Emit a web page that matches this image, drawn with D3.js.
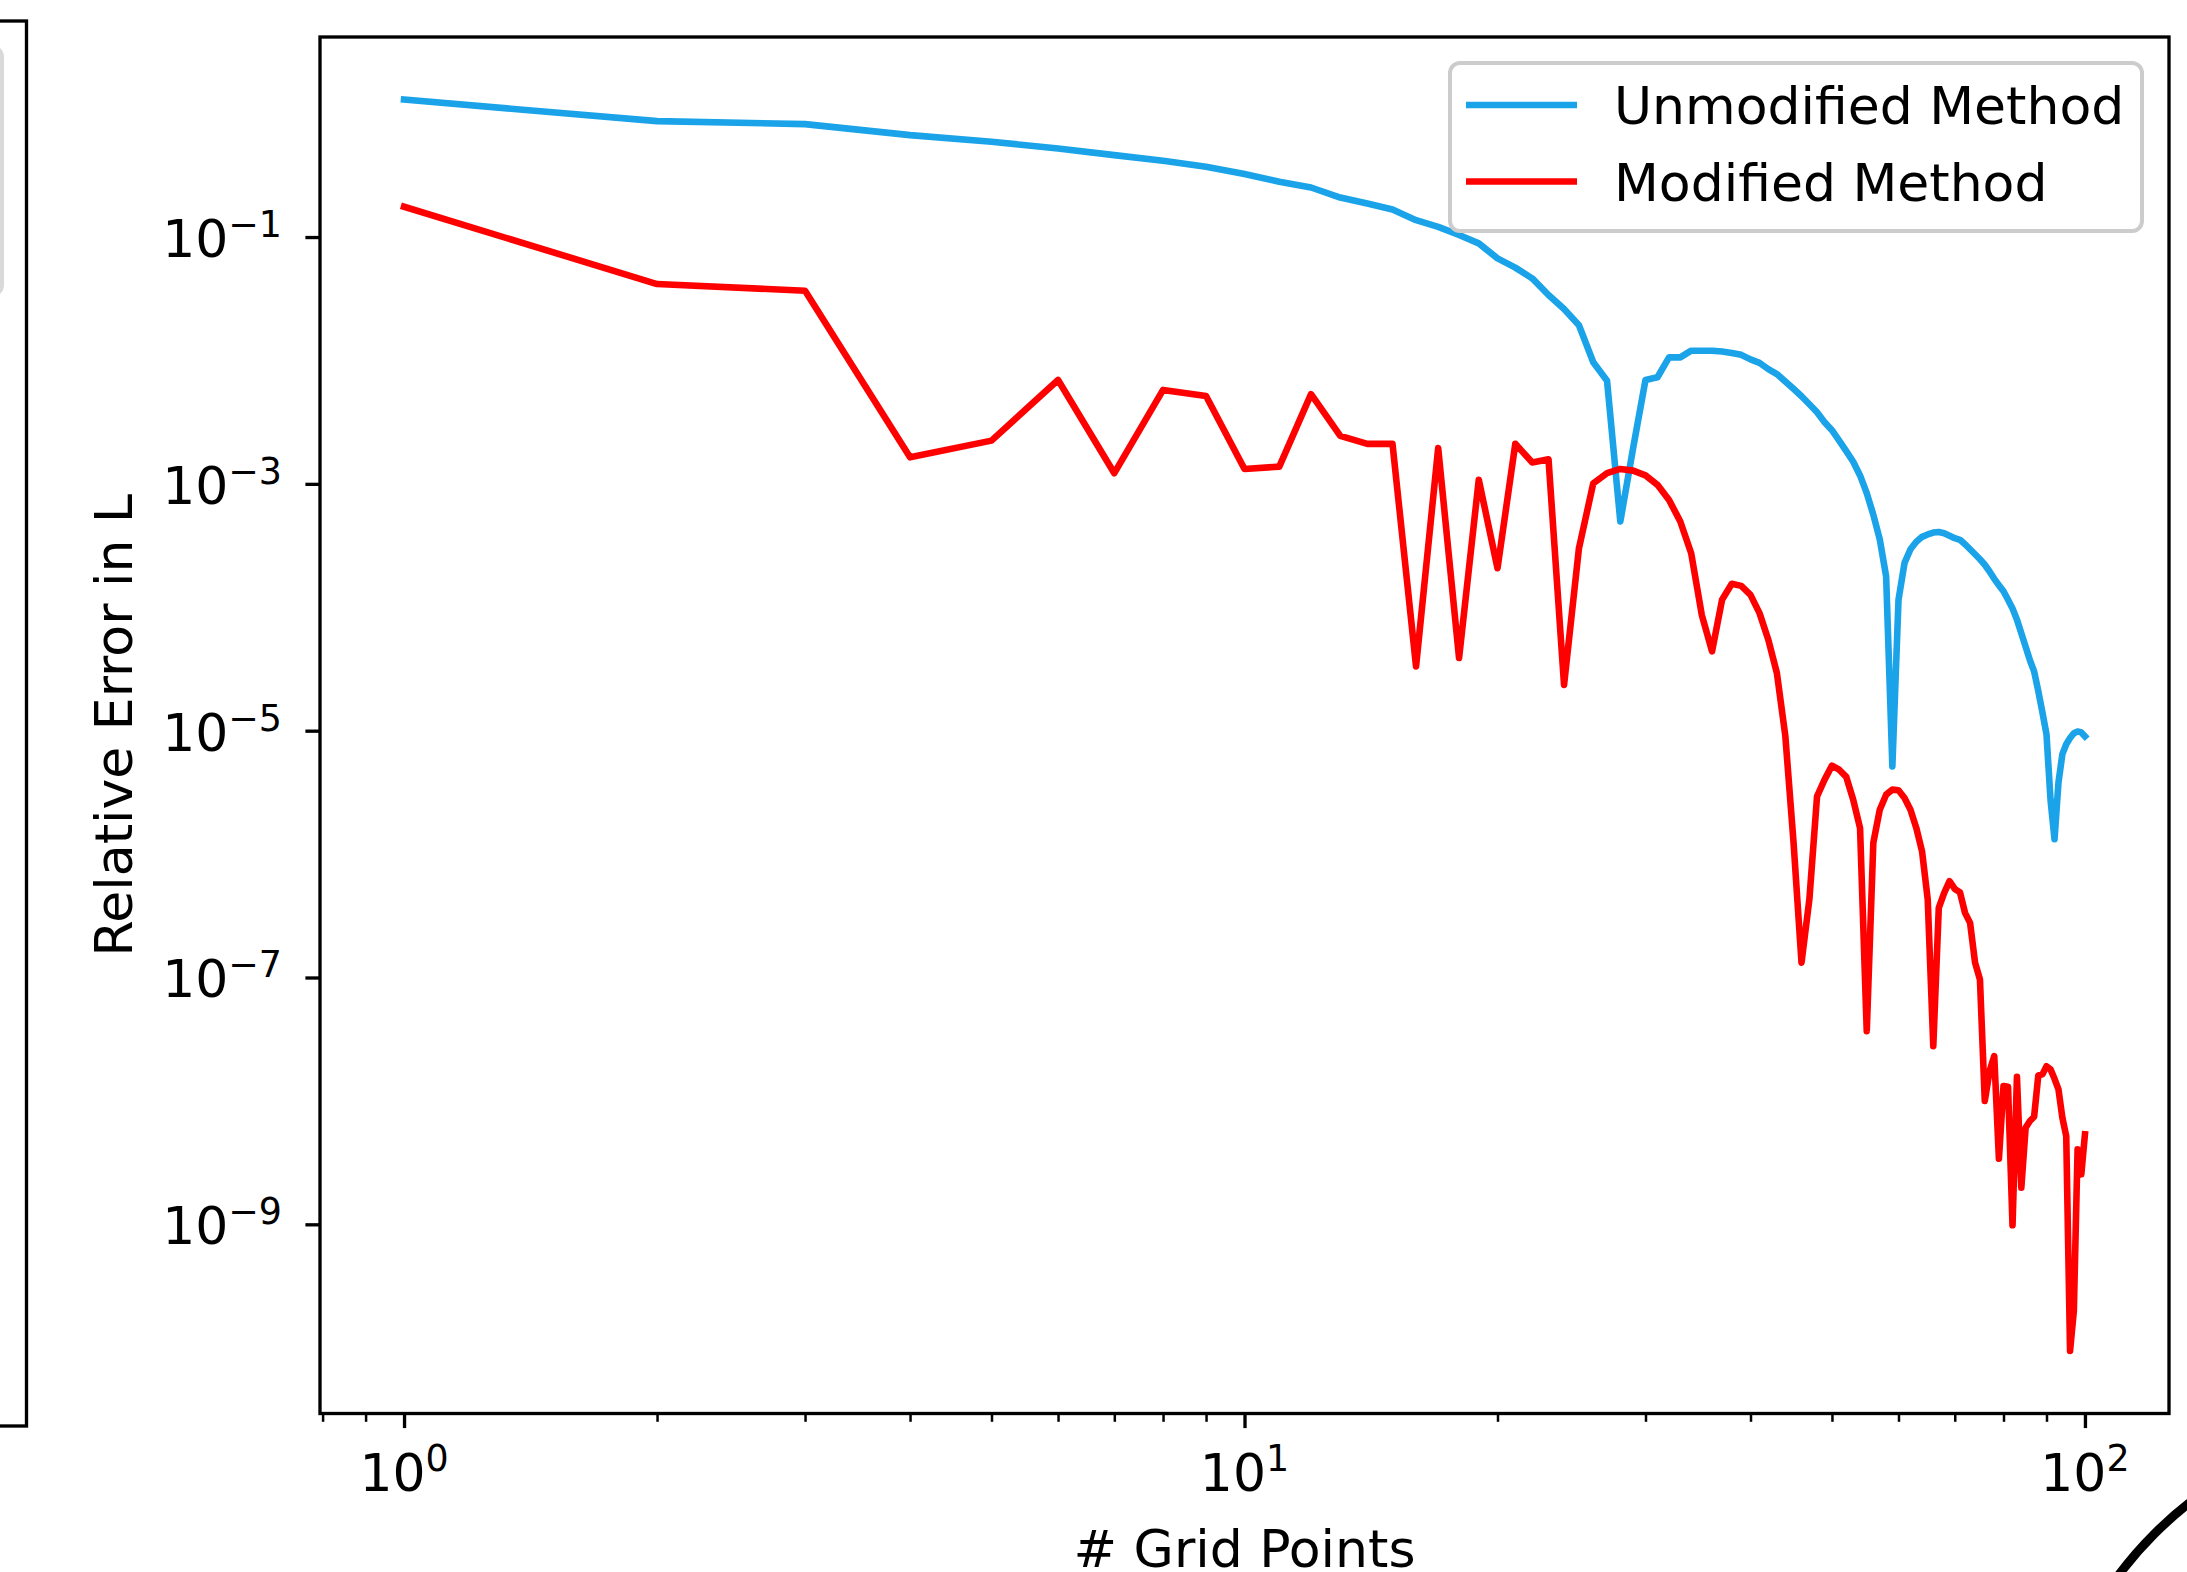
<!DOCTYPE html>
<html>
<head>
<meta charset="utf-8">
<script src="https://cdn.jsdelivr.net/npm/d3@7/dist/d3.min.js"></script>
<style>
  body { margin: 0; background: #fff; }
  svg { display: block; font-family: "DejaVu Sans", sans-serif; }
</style>
</head>
<body>
<svg id="chart" width="2187" height="1572"></svg>
<script>
let WIDTH = 2187;
let HEIGHT = 1572;

// number of grid points (x)
let gridPoints = [
  1, 2, 3, 4, 5, 6, 7, 8, 9, 10, 11, 12, 13, 14, 15, 16, 17, 18, 19, 20,
  21, 22, 23, 24, 25, 26, 27, 28, 29, 30, 31, 32, 33, 34, 35, 36, 37, 38, 39, 40,
  41, 42, 43, 44, 45, 46, 47, 48, 49, 50, 51, 52, 53, 54, 55, 56, 57, 58, 59, 60,
  61, 62, 63, 64, 65, 66, 67, 68, 69, 70, 71, 72, 73, 74, 75, 76, 77, 78, 79, 80,
  81, 82, 83, 84, 85, 86, 87, 88, 89, 90, 91, 92, 93, 94, 95, 96, 97, 98, 99, 100
];

// relative error, unmodified method (blue)
let unmodified = [
  1.30, 0.869, 0.822, 0.670, 0.592, 0.522, 0.461, 0.415, 0.371, 0.324,
  0.281, 0.252, 0.209, 0.187, 0.167, 0.137, 0.121, 0.104, 8.89e-2, 6.71e-2,
  5.65e-2, 4.62e-2, 3.39e-2, 2.61e-2, 1.93e-2, 9.66e-3, 6.84e-3, 4.95e-4, 1.95e-3, 6.95e-3,
  7.31e-3, 1.06e-2, 1.06e-2, 1.20e-2, 1.20e-2, 1.20e-2, 1.18e-2, 1.15e-2, 1.11e-2, 1.02e-2,
  9.55e-3, 8.51e-3, 7.76e-3, 6.76e-3, 5.89e-3, 5.13e-3, 4.42e-3, 3.80e-3, 3.16e-3, 2.72e-3,
  2.24e-3, 1.84e-3, 1.51e-3, 1.17e-3, 8.41e-4, 5.62e-4, 3.55e-4, 1.78e-4, 5.14e-6, 1.15e-4,
  2.29e-4, 2.95e-4, 3.39e-4, 3.72e-4, 3.89e-4, 4.03e-4, 4.07e-4, 3.98e-4, 3.80e-4, 3.63e-4,
  3.52e-4, 3.24e-4, 2.95e-4, 2.69e-4, 2.45e-4, 2.21e-4, 1.95e-4, 1.70e-4, 1.51e-4, 1.35e-4,
  1.15e-4, 9.77e-5, 7.94e-5, 6.17e-5, 4.79e-5, 3.72e-5, 3.02e-5, 2.09e-5, 1.41e-5, 9.33e-6,
  2.75e-6, 1.32e-6, 3.80e-6, 6.46e-6, 7.76e-6, 8.71e-6, 9.55e-6, 9.86e-6, 9.68e-6, 8.99e-6
];

// relative error, modified method (red)
let modified = [
  0.176, 4.16e-2, 3.67e-2, 1.64e-3, 2.24e-3, 6.95e-3, 1.22e-3, 5.77e-3, 5.16e-3, 1.32e-3,
  1.38e-3, 5.33e-3, 2.45e-3, 2.11e-3, 2.11e-3, 3.32e-5, 1.95e-3, 3.88e-5, 1.08e-3, 2.07e-4,
  2.11e-3, 1.49e-3, 1.58e-3, 2.35e-5, 3.01e-4, 1.01e-3, 1.22e-3, 1.32e-3, 1.28e-3, 1.17e-3,
  9.82e-4, 7.41e-4, 4.95e-4, 2.74e-4, 8.69e-5, 4.39e-5, 1.15e-4, 1.55e-4, 1.49e-4, 1.26e-4,
  8.97e-5, 5.46e-5, 2.93e-5, 9.12e-6, 1.26e-6, 1.32e-7, 4.29e-7, 2.94e-6, 4.01e-6, 5.21e-6,
  4.83e-6, 4.22e-6, 2.76e-6, 1.63e-6, 3.67e-8, 1.23e-6, 2.29e-6, 3.03e-6, 3.33e-6, 3.29e-6,
  2.85e-6, 2.29e-6, 1.63e-6, 1.05e-6, 4.29e-7, 2.78e-8, 3.66e-7, 4.85e-7, 6.03e-7, 5.22e-7,
  4.91e-7, 3.34e-7, 2.77e-7, 1.32e-7, 9.64e-8, 1.00e-8, 1.74e-8, 2.31e-8, 3.40e-9, 1.32e-8,
  1.30e-8, 9.82e-10, 1.57e-8, 1.98e-9, 6.07e-9, 6.87e-9, 7.45e-9, 1.61e-8, 1.64e-8, 1.91e-8,
  1.80e-8, 1.51e-8, 1.24e-8, 7.31e-9, 5.19e-9, 9.42e-11, 1.99e-10, 4.05e-9, 2.54e-9, 5.36e-9
];

let seriesNames = ['Unmodified Method', 'Modified Method'];
let seriesColors = ['#1aa3e8', '#ff0000'];

let xMajorTicks = [1, 10, 100];
let xMinorTicks = [0.8, 0.9, 2, 3, 4, 5, 6, 7, 8, 9, 20, 30, 40, 50, 60, 70, 80, 90];
let yMajorTicks = [1e-1, 1e-3, 1e-5, 1e-7, 1e-9];

let xLabel = '# Grid Points';
let yLabel = 'Relative Error in L';

// plot box (pixels)
let LEFT = 320, TOP = 37, RIGHT = 2169, BOTTOM = 1413.5;
let FONT = 52;
let SPINE = 3.33;
let LINE_W = 6.6;

let svg = d3.select('#chart');
svg.append('rect').attr('width', WIDTH).attr('height', HEIGHT).attr('fill', '#fff');

// matplotlib style 5% margin in log space
let padLog = function (ext) {
  let a = Math.log10(ext[0]), b = Math.log10(ext[1]);
  let p = (b - a) * 0.05;
  return [Math.pow(10, a - p), Math.pow(10, b + p)];
};

let xScale = d3.scaleLog()
  .domain(padLog(d3.extent(gridPoints)))
  .range([LEFT, RIGHT]);
let yScale = d3.scaleLog()
  .domain(padLog(d3.extent(unmodified.concat(modified))))
  .range([BOTTOM, TOP]);

// neighbouring subplot, cut off at the left edge
svg.append('rect')
  .attr('x', -200).attr('y', 21).attr('width', 226.5).attr('height', 1405)
  .attr('fill', 'none').attr('stroke', '#000').attr('stroke-width', SPINE);
svg.append('rect')
  .attr('x', -400).attr('y', 47).attr('width', 402).attr('height', 248).attr('rx', 10)
  .attr('fill', 'none').attr('stroke', '#d9d9d9').attr('stroke-width', 4);

// lines
let plot = svg.append('g').attr('id', 'lines');
let seriesData = [unmodified, modified];
let line = d3.line()
  .x(function (d) { return xScale(d.n); })
  .y(function (d) { return yScale(d.v); });

seriesData.forEach(function (vals, k) {
  let pts = gridPoints.map(function (n, i) { return { n: n, v: vals[i] }; });
  plot.append('path')
    .datum(pts)
    .attr('d', line)
    .attr('fill', 'none')
    .attr('stroke', seriesColors[k])
    .attr('stroke-width', LINE_W)
    .attr('stroke-linejoin', 'round')
    .attr('stroke-linecap', 'square');
});

// x axis
let bottomAxis = d3.axisBottom(xScale).tickValues(xMajorTicks).tickSize(14.6).tickSizeOuter(0).tickFormat('');
let xg = svg.append('g').attr('id', 'x-axis').attr('transform', 'translate(0,' + BOTTOM + ')').call(bottomAxis);
let minorAxis = d3.axisBottom(xScale).tickValues(xMinorTicks).tickSize(8.3).tickSizeOuter(0).tickFormat('');
let xmg = svg.append('g').attr('transform', 'translate(0,' + BOTTOM + ')').call(minorAxis);
xg.selectAll('line').attr('stroke-width', SPINE);
xmg.selectAll('line').attr('stroke-width', 2.5);
xg.select('.domain').remove();
xmg.select('.domain').remove();

// y axis
let leftAxis = d3.axisLeft(yScale).tickValues(yMajorTicks).tickSize(14.6).tickSizeOuter(0).tickFormat('');
let yg = svg.append('g').attr('id', 'y-axis').attr('transform', 'translate(' + LEFT + ',0)').call(leftAxis);
yg.selectAll('line').attr('stroke-width', SPINE);
yg.select('.domain').remove();

// power-of-ten labels
let powLabel = function (sel) {
  sel.append('tspan').text('10');
  sel.append('tspan')
    .attr('font-size', FONT * 0.7)
    .attr('dy', -20)
    .text(function (d) { return String(Math.round(Math.log10(d))).replace('-', '\u2212'); });
};

svg.append('g').selectAll('text')
  .data(xMajorTicks)
  .join('text')
    .attr('x', function (d) { return xScale(d); })
    .attr('y', BOTTOM + 77)
    .attr('text-anchor', 'middle')
    .attr('font-size', FONT)
    .call(powLabel);

svg.append('g').selectAll('text')
  .data(yMajorTicks)
  .join('text')
    .attr('x', LEFT - 38)
    .attr('y', function (d) { return yScale(d) + 20; })
    .attr('text-anchor', 'end')
    .attr('font-size', FONT)
    .call(powLabel);

// frame
svg.append('rect')
  .attr('x', LEFT).attr('y', TOP).attr('width', RIGHT - LEFT).attr('height', BOTTOM - TOP)
  .attr('fill', 'none').attr('stroke', '#000').attr('stroke-width', SPINE);

// axis titles
svg.append('text')
  .attr('x', (LEFT + RIGHT) / 2).attr('y', 1567)
  .attr('text-anchor', 'middle').attr('font-size', FONT)
  .text(xLabel);
svg.append('text')
  .attr('transform', 'translate(132,' + (TOP + BOTTOM) / 2 + ') rotate(-90)')
  .attr('text-anchor', 'middle').attr('font-size', FONT)
  .text(yLabel);

// legend
let legend = svg.append('g').attr('id', 'legend');
legend.append('rect')
  .attr('x', 1450).attr('y', 63).attr('width', 692).attr('height', 168).attr('rx', 10)
  .attr('fill', 'rgba(255,255,255,0.8)').attr('stroke', '#cccccc').attr('stroke-width', 4);
let items = legend.selectAll('g.item')
  .data(seriesNames)
  .join('g')
    .attr('class', 'item')
    .attr('transform', function (d, i) { return 'translate(0,' + (105 + i * 76.5) + ')'; });
items.append('line')
  .attr('x1', 1466).attr('x2', 1577)
  .attr('stroke', function (d, i) { return seriesColors[i]; })
  .attr('stroke-width', LINE_W);
items.append('text')
  .attr('x', 1614).attr('y', 19)
  .attr('font-size', FONT)
  .text(function (d) { return d; });

// circled mark in the lower right corner, mostly outside the picture
svg.append('circle')
  .attr('cx', 2420).attr('cy', 1800).attr('r', 376)
  .attr('fill', 'none').attr('stroke', '#000').attr('stroke-width', 9);
</script>
</body>
</html>
